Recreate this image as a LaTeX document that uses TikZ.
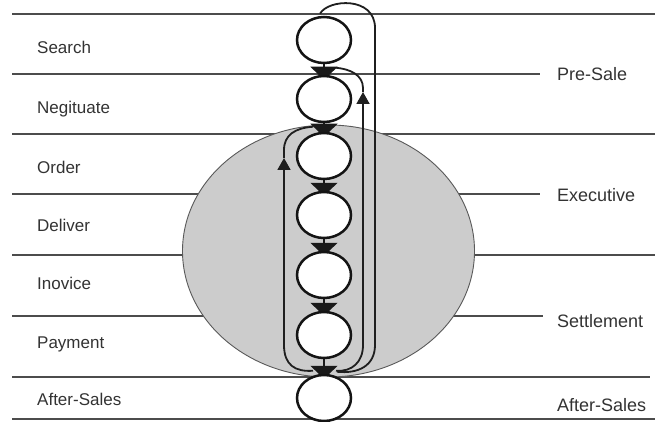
\documentclass[tikz,border=0pt]{standalone}
\usepackage{fontspec}
\setmainfont{Liberation Sans}
\usetikzlibrary{arrows.meta,calc,shapes.geometric}
\pgfdeclarelayer{back}
\pgfdeclarelayer{mid}
\pgfsetlayers{back,mid,main}
\begin{document}
\begin{tikzpicture}[x=1pt,y=-1pt,
  rule/.style={draw=black!70, line width=1.3pt},
  stage/.style={ellipse, draw=black!92, line width=2.5pt, fill=white,
    minimum width=54pt, minimum height=46pt, inner sep=0pt},
  lbl/.style={font=\fontsize{17}{20}\selectfont, text=black!80, anchor=base west, inner sep=0pt},
  rlbl/.style={font=\fontsize{18}{21}\selectfont, text=black!80, anchor=base west, inner sep=0pt},
  link/.style={draw=black!90, line width=2.2pt, -{Triangle[width=27pt,length=13pt]}, shorten >=-5pt},
  loopline/.style={draw=black!88, line width=1.8pt},
  uparrow/.style={loopline, -{Triangle[width=13pt,length=12pt]}}
]
\useasboundingbox (0,0) rectangle (663,422);
\begin{pgfonlayer}{back}
\fill[white] (0,0) rectangle (663,422);
\draw[rule] (12,14) -- (655,14);
\draw[rule] (12,74) -- (540,74);
\draw[rule] (12,134) -- (655,134);
\draw[rule] (12,194) -- (540,194);
\draw[rule] (12,255) -- (655,255);
\draw[rule] (12,316) -- (543,316);
\draw[rule] (12,377) -- (650,377);
\draw[rule] (12,419) -- (655,419);
\fill[black!20] (328.5,251) ellipse [x radius=146pt, y radius=126pt];
\draw[black!65, line width=0.9pt] (328.5,251) ellipse [x radius=146pt, y radius=126pt];
\end{pgfonlayer}

% stages
\node[stage] (c1) at (324,40) {};
\node[stage] (c2) at (324,99) {};
\node[stage] (c3) at (324,156) {};
\node[stage] (c4) at (324,215) {};
\node[stage] (c5) at (324,275) {};
\node[stage] (c6) at (324,335) {};
\node[stage] (c7) at (324,398) {};

% labels
\node[lbl] (l1) at (37,53.5) {Search};
\node[lbl] (l2) at (37,114) {Negituate};
\node[lbl] (l3) at (37,173) {Order};
\node[lbl] (l4) at (37,231) {Deliver};
\node[lbl] (l5) at (37,289) {Inovice};
\node[lbl] (l6) at (37,348) {Payment};
\node[lbl] (l7) at (37,405) {After-Sales};
\node[rlbl] (r1) at (557,81) {Pre-Sale};
\node[rlbl] (r2) at (557,201) {Executive};
\node[rlbl] (r3) at (557,327) {Settlement};
\node[rlbl] (r4) at (557,411) {After-Sales};

\begin{pgfonlayer}{mid}
\draw[link] (c1) -- (c2);
\draw[link] (c2) -- (c3);
\draw[link] (c3) -- (c4);
\draw[link] (c4) -- (c5);
\draw[link] (c5) -- (c6);
\draw[link] (c6) -- (c7);

\coordinate (jl) at ($(c7.north)+(-11,-3)$);
\coordinate (jr) at ($(c7.north)+(12,-3)$);
\coordinate (jr2) at ($(c7.north)+(13,-2)$);
\coordinate (jt1) at ($(c2.north)+(12,-7)$);
\coordinate (jt2) at ($(c3.north)+(-11,-5)$);
\coordinate (top1) at ($(c1.north)+(-4,-2)$);
\coordinate (al) at (284,158);
\coordinate (ar) at (363,92);

% left loop back to Order
\draw[uparrow] (jl) .. controls (295,372) and (284,365) .. (284,345) -- (al);
\draw[loopline] (al) -- (284,150) .. controls (284,135) and (295,128) .. (jt2);
% right inner loop back to Negituate
\draw[uparrow] (jr) .. controls (352,372) and (363,362) .. (363,345) -- (ar);
\draw[loopline] (ar) -- (363,88) .. controls (363,75) and (350,69) .. (jt1);
% outer loop from Search down to After-Sales
\draw[loopline] (top1) .. controls (328,-1) and (375,-4) .. (375,28) -- (375,345)
  .. controls (375,366) and (358,374) .. (jr2);
\end{pgfonlayer}
\end{tikzpicture}
\end{document}
